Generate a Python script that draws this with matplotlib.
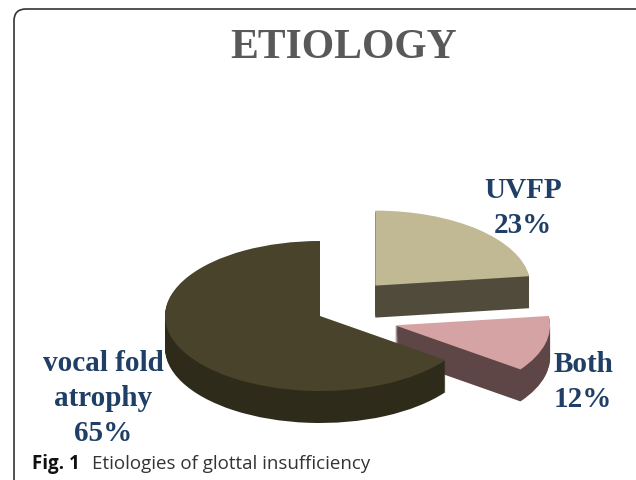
import matplotlib
matplotlib.use("Agg")
import matplotlib.pyplot as plt
from matplotlib.patches import FancyBboxPatch

# ---- data ----
categories = ["UVFP", "Both", "vocal fold\natrophy"]
percentages = [23, 12, 65]
explode = [0.54, 0.5, 0.0]
top_colors = ["#c0b994", "#d5a3a3", "#48432a"]
side_colors = ["#514b3b", "#5e4646", "#2e2b1a"]
title_text = "ETIOLOGY"
caption_bold = "Fig. 1"
caption_text = "Etiologies of glottal insufficiency"

W, H = 636, 481
fig = plt.figure(figsize=(W / 100, H / 100), dpi=100)

# pie axes: data units -> radius 1 = 155 px horizontally, 75 px vertically
cx, cy, rx, ry = 320, 317, 155, 75
ax = fig.add_axes([0, 0, 1, 1])
depth_px = 32
n_layers = 33
for k in range(n_layers + 1):
    dy = -depth_px / ry * (1 - k / n_layers)
    is_top = (k == n_layers)
    cols = top_colors if is_top else side_colors
    wedges, _ = ax.pie(percentages, startangle=90, counterclock=False,
                       explode=explode, colors=cols, radius=1,
                       center=(0, dy), wedgeprops=dict(linewidth=0))
    for i, w in enumerate(wedges):
        w.set_zorder(i * 10 + k * 0.01 + (1 if is_top else 0))

ax.set_aspect("auto")
ax.set_xlim((0 - cx) / rx, (W - cx) / rx)
ax.set_ylim((cy - H) / ry, (cy - 0) / ry)
ax.axis("off")

def fx(px):
    return px / W

def fy(py):
    return 1 - py / H

label_color = "#1f3f66"
label_font = dict(family="Liberation Serif", weight="bold", size=21,
                  color=label_color, ha="center", va="baseline")
# positions: centre x and baseline of last line (pixels)
label_pos = [(523, 233), (583, 407), (103, 441)]
for name, pct, (px, py) in zip(categories, percentages, label_pos):
    fig.text(fx(px), fy(py), f"{name}\n{pct}%", linespacing=1.38,
             **label_font)

fig.text(fx(344), fy(58), title_text, family="Liberation Serif",
         weight="bold", size=30, color="#595959", ha="center", va="baseline")

fig.text(fx(32), fy(469), caption_bold, family="Open Sans", weight="bold",
         size=13.5, color="#111111", ha="left", va="baseline")
fig.text(fx(92), fy(469), caption_text, family="Open Sans",
         size=13.5, color="#333333", ha="left", va="baseline")

border = FancyBboxPatch((0.14, -0.5), 7.0, (H - 10) / 100 + 0.5,
                        boxstyle="round,pad=0,rounding_size=0.12",
                        transform=fig.dpi_scale_trans, fill=False,
                        edgecolor="#333333", linewidth=1.2)
fig.patches.append(border)

fig.savefig("out.png", dpi=100)
